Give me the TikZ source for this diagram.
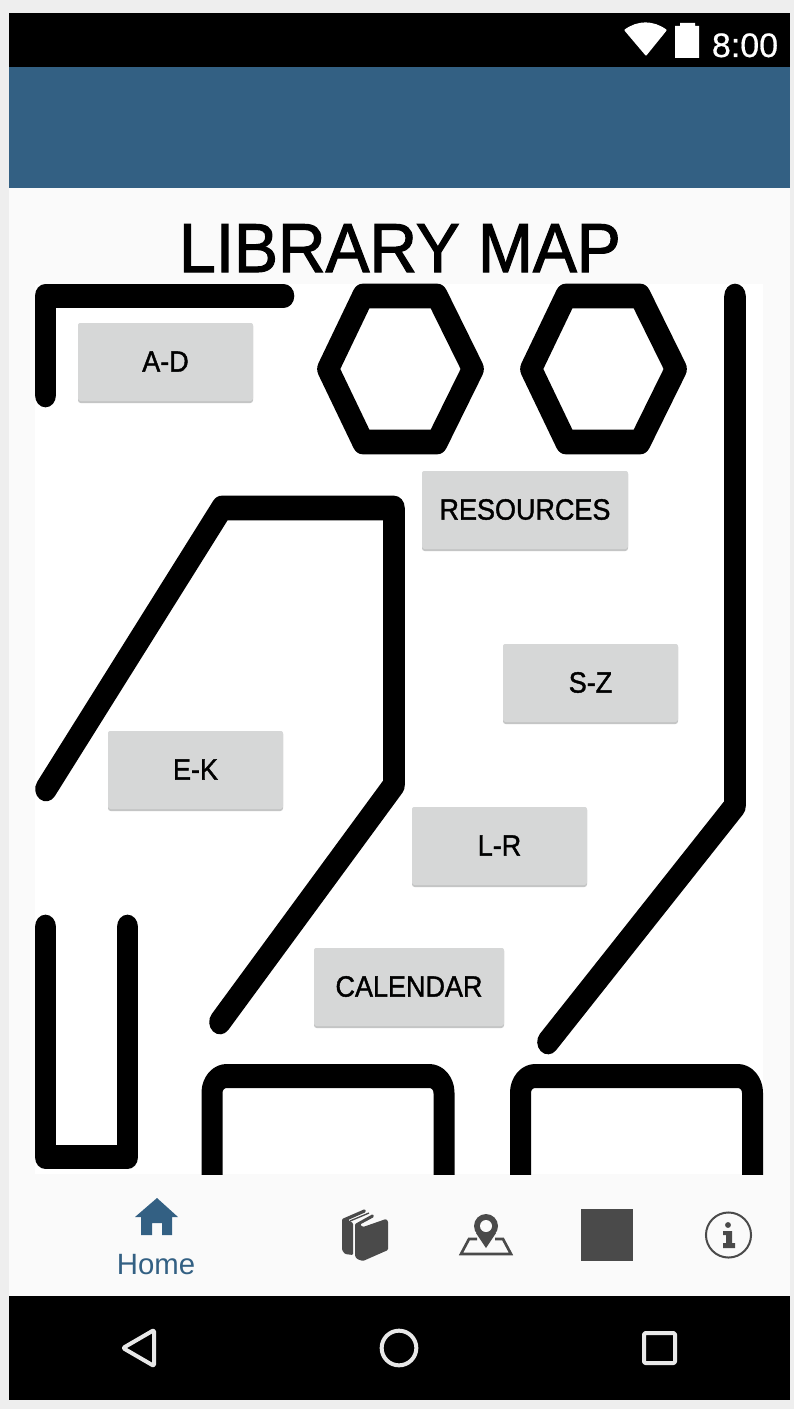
\documentclass[tikz,border=0pt]{standalone}
\usepackage{fontspec}
\setmainfont{Liberation Sans}
\newfontfamily\medfont[FakeStretch=0.92,RawFeature={embolden=1.3}]{Liberation Sans}
\newfontfamily\titlefont[FakeStretch=0.95,RawFeature={embolden=1.6}]{Liberation Sans}
\newfontfamily\clockfont[RawFeature={embolden=0.5}]{Liberation Sans}
\definecolor{outerbg}{HTML}{EEEEEE}
\definecolor{bodybg}{HTML}{FAFAFA}
\definecolor{appblue}{HTML}{336083}
\definecolor{btn}{HTML}{D6D7D7}
\definecolor{btnsh}{HTML}{C4C5C5}
\definecolor{icon}{HTML}{4A4A4A}
\definecolor{navw}{HTML}{E8E8E8}
\tikzset{
  x=0.75pt,y=-0.75pt,
  wall/.style={line width=16.2pt,line cap=round,line join=round,black},
  boxwall/.style={wall,line width=15.75pt,line cap=butt,rounded corners=11pt},
  navicon/.style={draw=navw,line width=3pt,line join=round},
}
\begin{document}
\begin{tikzpicture}
\useasboundingbox (0,0) rectangle (794,1409);
\fill[outerbg] (0,0) rectangle (794,1409);
\fill[bodybg] (9,13) rectangle (790,1400);
\fill[black] (9,13) rectangle (790,67);
\fill[appblue] (9,67) rectangle (790,188);
\fill[black] (9,1296) rectangle (790,1400);
\fill[white] (35,284) rectangle (763,1174);
% status bar
\fill[white,rounded corners=0.6pt] (624,30) .. controls (638,20) and (653,20) .. (667,30) -- (646,56) -- cycle;
\fill[white] (675,26) -- (680,26) -- (680,23) -- (695,23) -- (695,26) -- (699,26) -- (699,58) -- (675,58) -- cycle;
\node[text=white,font=\clockfont\fontsize{25.5}{26}\selectfont,anchor=base] (clock) at (745,57) {8:00};
% title
\node[font=\titlefont\fontsize{52}{52}\selectfont,anchor=base,text=black] (title) at (400,272) {LIBRARY MAP};
% walls: the map image is stretched, strokes are 21px wide and 24px tall
\begin{scope}[transform canvas={yscale=1.14286},y=-0.65625pt]
\clip (0,270) rectangle (794,1174);
\draw[wall] (45.5,395) -- (45.5,296) -- (283.5,296);
\draw[wall] (328,369) -- (363,296) -- (437,296) -- (473,369) -- (437,442) -- (363,442) -- cycle;
\draw[wall] (531,369) -- (566,296) -- (640,296) -- (676,369) -- (640,442) -- (566,442) -- cycle;
\draw[wall] (46,789) -- (222,508) -- (394,508) -- (394,785) -- (220,1022);
\draw[wall] (735,296) -- (735,806) -- (548,1042);
\draw[wall] (45.5,927) -- (45.5,1157) -- (127.5,1157) -- (127.5,927);
\draw[boxwall] (212,1190) -- (212,1076) -- (444,1076) -- (444,1190);
\draw[boxwall] (520.5,1190) -- (520.5,1076) -- (752.5,1076) -- (752.5,1190);
\end{scope}
% buttons
\foreach \nm/\xa/\ya/\xb/\yb/\lab in {
  ad/78/323/253/403/A-D,
  res/422/471/628/551/RESOURCES,
  sz/503/644/678/724/S-Z,
  ek/108/731/283/811/E-K,
  lr/412/807/587/887/L-R,
  cal/314/948/504/1028/CALENDAR}{
  \fill[btnsh,rounded corners=2pt] (\xa,\ya) rectangle (\xb,\yb);
  \fill[btn,rounded corners=2pt] (\xa,\ya) rectangle (\xb,\yb-2);
  \node[text=black,font=\medfont\fontsize{22}{22}\selectfont,inner sep=0pt] (\nm) at ({(\xa+\xb)/2},{(\ya+\yb)/2-1.5}) {\lab};
}
% bottom bar: home
\fill[appblue] (157,1198) -- (178,1217) -- (172,1217) -- (172,1235) -- (162,1235) -- (162,1223) -- (152,1223) -- (152,1235) -- (141,1235) -- (141,1217) -- (135,1217) -- cycle;
\node[text=appblue,font=\fontsize{22}{22}\selectfont,anchor=base] (home) at (156,1274) {Home};
% books
\fill[icon,rounded corners=0.8pt] (342,1219) -- (365,1209) -- (366,1212) -- (348,1220) -- (353,1223) -- (353,1255) -- (345,1254) -- (342,1250) -- cycle;
\draw[icon,line width=1pt] (350,1221) -- (369,1213);
\fill[icon,rounded corners=0.8pt] (355,1224) -- (373,1214) -- (374,1217) -- (360,1224.5) -- (363,1227) -- (386,1219) -- (388,1221) -- (388,1250) -- (363,1261) -- (357,1259) -- (355,1256) -- cycle;
% map pin
\draw[icon,line width=2pt,line join=miter] (477,1239) -- (469,1239) -- (461,1254) -- (511,1254) -- (503,1239) -- (495,1239);
\fill[icon] (476,1233) -- (486,1248) -- (496,1233) -- cycle;
\fill[icon] (486,1226) circle[radius=9pt];
\fill[bodybg] (486,1226) circle[radius=4.5pt];
% square
\fill[icon] (581,1209) rectangle (633,1261);
% info
\draw[icon,line width=1.5pt] (728.5,1235) circle[radius=16.9pt];
\fill[icon] (728,1225) circle[radius=2.2pt];
\fill[icon] (723,1231) -- (732,1231) -- (732,1243) -- (735,1243) -- (735,1248) -- (723,1248) -- (723,1243) -- (726,1243) -- (726,1235) -- (723,1235) -- cycle;
% navigation bar
\draw[navicon,rounded corners=1pt] (154,1330) -- (154,1366) -- (123,1348) -- cycle;
\draw[navicon] (399,1348) circle[radius=13pt];
\draw[navicon,rounded corners=1pt] (644,1333) rectangle (675,1363);
\end{tikzpicture}
\end{document}
